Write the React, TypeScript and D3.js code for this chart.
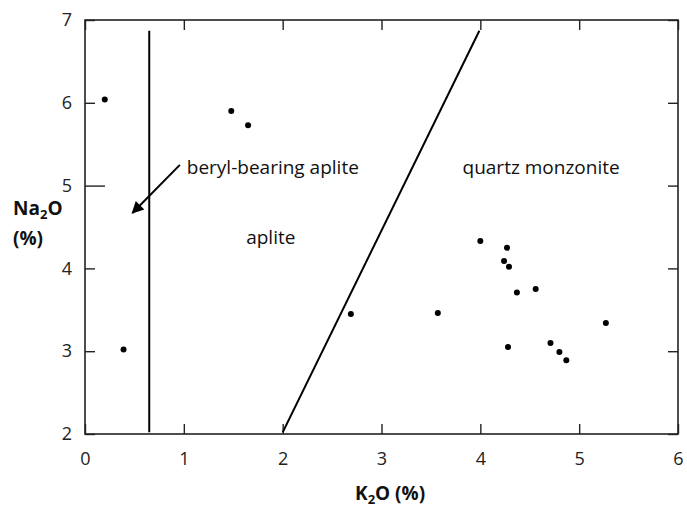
import { useEffect, useRef } from 'react';
import * as d3 from 'd3';

// K2O (%) vs Na2O (%) samples
const k2o = [0.2, 0.39, 1.48, 1.65, 2.69, 3.57, 4.0, 4.27, 4.24, 4.29, 4.37, 4.56, 5.27, 4.28, 4.71, 4.8, 4.87];
const na2o = [6.04, 3.02, 5.9, 5.73, 3.45, 3.46, 4.33, 4.25, 4.09, 4.02, 3.71, 3.75, 3.34, 3.05, 3.1, 2.99, 2.89];

const xTicks = [0, 1, 2, 3, 4, 5, 6];
const yTicks = [2, 3, 4, 5, 6, 7];

// boundary lines between fields
const berylLine: [number, number][] = [[0.65, 2.02], [0.65, 6.87]];
const apliteLine: [number, number][] = [[2.0, 2.02], [3.99, 6.87]];
const arrowFrom: [number, number] = [0.96, 5.25];
const arrowTo: [number, number] = [0.48, 4.67];

const fieldLabels = [
  { text: 'beryl-bearing aplite', x: 1.03, y: 5.22, anchor: 'start' },
  { text: 'aplite', x: 1.88, y: 4.38, anchor: 'middle' },
  { text: 'quartz monzonite', x: 3.82, y: 5.22, anchor: 'start' },
];

const FONT = '"Open Sans", Lato, sans-serif';

function App() {
  const svgRef = useRef<SVGSVGElement>(null);

  useEffect(() => {
    if (!svgRef.current) return;
    const svg = d3.select(svgRef.current);
    svg.selectAll('*').remove();

    const margin = { top: 20, right: 9, bottom: 76, left: 85 };
    const width = 687 - margin.left - margin.right;
    const height = 510 - margin.top - margin.bottom;

    const x = d3.scaleLinear().domain([0, 6]).range([0, width]);
    const y = d3.scaleLinear().domain([2, 7]).range([height, 0]);

    svg.append('defs').append('marker')
      .attr('id', 'head')
      .attr('viewBox', '0 0 10 10')
      .attr('refX', 9)
      .attr('refY', 5)
      .attr('markerWidth', 15)
      .attr('markerHeight', 12)
      .attr('markerUnits', 'userSpaceOnUse')
      .attr('orient', 'auto')
      .append('path')
      .attr('d', 'M0,0L10,5L0,10Z')
      .attr('fill', '#000');

    const g = svg.append('g').attr('transform', `translate(${margin.left},${margin.top})`);

    // frame
    g.append('rect')
      .attr('width', width)
      .attr('height', height)
      .attr('fill', 'none')
      .attr('stroke', '#222')
      .attr('stroke-width', 1.6);

    const styleAxis = (sel: any) => {
      sel.select('.domain').remove();
      sel.selectAll('line').attr('stroke', '#222').attr('stroke-width', 1.4);
      sel.selectAll('text').attr('font-family', FONT).attr('font-size', 18).attr('fill', '#222');
    };

    g.append('g')
      .attr('transform', `translate(0,${height})`)
      .call(d3.axisBottom(x).tickValues(xTicks).tickSize(-10).tickPadding(18).tickFormat(d3.format('d')))
      .call(styleAxis);

    g.append('g')
      .call(d3.axisTop(x).tickValues(xTicks).tickSize(-10).tickFormat(() => ''))
      .call(styleAxis);

    const left = g.append('g')
      .call(d3.axisLeft(y).tickValues(yTicks).tickSize(-10).tickPadding(13).tickFormat(d3.format('d')))
      .call(styleAxis);
    left.selectAll('.tick').filter((d: any) => d === 5).select('line').attr('x2', 20);

    g.append('g')
      .attr('transform', `translate(${width},0)`)
      .call(d3.axisRight(y).tickValues(yTicks).tickSize(-10).tickFormat(() => ''))
      .call(styleAxis);

    const line = d3.line<[number, number]>().x(d => x(d[0])).y(d => y(d[1]));

    [berylLine, apliteLine].forEach(pts => {
      g.append('path')
        .attr('d', line(pts))
        .attr('fill', 'none')
        .attr('stroke', '#000')
        .attr('stroke-width', 2);
    });

    g.append('line')
      .attr('x1', x(arrowFrom[0])).attr('y1', y(arrowFrom[1]))
      .attr('x2', x(arrowTo[0])).attr('y2', y(arrowTo[1]))
      .attr('stroke', '#000')
      .attr('stroke-width', 2)
      .attr('marker-end', 'url(#head)');

    g.selectAll('.dot')
      .data(k2o)
      .enter().append('circle')
      .attr('class', 'dot')
      .attr('cx', d => x(d))
      .attr('cy', (_, i) => y(na2o[i]))
      .attr('r', 3)
      .attr('fill', '#000');

    g.selectAll('.field')
      .data(fieldLabels)
      .enter().append('text')
      .attr('class', 'field')
      .attr('x', d => x(d.x))
      .attr('y', d => y(d.y))
      .attr('dy', '0.35em')
      .attr('text-anchor', d => d.anchor)
      .attr('font-family', FONT)
      .attr('font-size', 19)
      .attr('fill', '#111')
      .text(d => d.text);

    // axis titles
    const yTitle = svg.append('text')
      .attr('x', 13)
      .attr('y', 215)
      .attr('font-family', FONT)
      .attr('font-size', 19)
      .attr('font-weight', 'bold')
      .attr('fill', '#111');
    yTitle.append('tspan').text('Na');
    yTitle.append('tspan').attr('font-size', 13).attr('dy', 4).text('2');
    yTitle.append('tspan').attr('dy', -4).text('O');
    svg.append('text')
      .attr('x', 13)
      .attr('y', 245)
      .attr('font-family', FONT)
      .attr('font-size', 19)
      .attr('font-weight', 'bold')
      .attr('fill', '#111')
      .text('(%)');

    const xTitle = svg.append('text')
      .attr('x', 355)
      .attr('y', 500)
      .attr('font-family', FONT)
      .attr('font-size', 19)
      .attr('font-weight', 'bold')
      .attr('fill', '#111');
    xTitle.append('tspan').text('K');
    xTitle.append('tspan').attr('font-size', 13).attr('dy', 4).text('2');
    xTitle.append('tspan').attr('dy', -4).text('O (%)');
  }, []);

  return (
    <svg
      ref={svgRef}
      width={687}
      height={510}
      style={{ position: 'absolute', left: 0, top: 0, background: '#fff' }}
    />
  );
}

export default App;
